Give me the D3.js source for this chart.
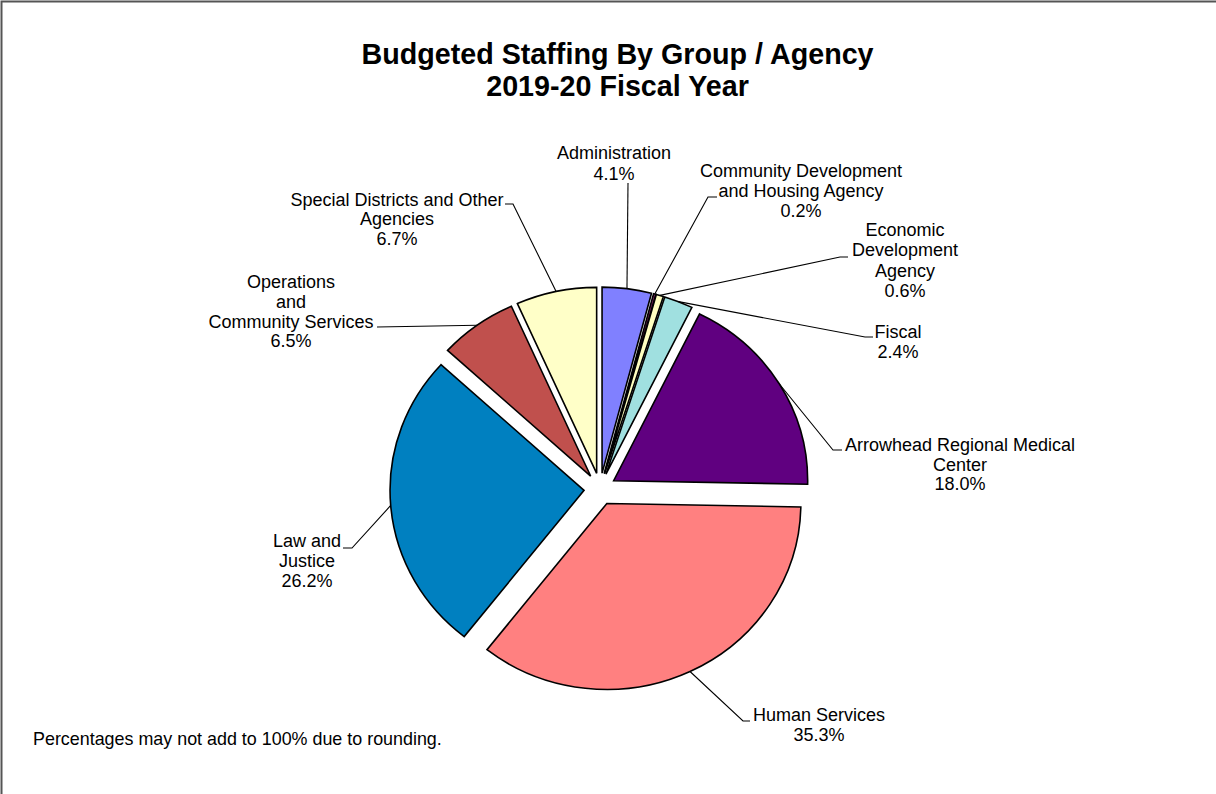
<!DOCTYPE html>
<html>
<head>
<meta charset="utf-8">
<script src="https://cdn.jsdelivr.net/npm/d3@7"></script>
<style>
  html, body { margin: 0; padding: 0; background: #fff; }
  svg { display: block; }
  text { font-family: "Liberation Sans", Arial, sans-serif; fill: #000; }
</style>
</head>
<body>
<svg id="chart" width="1216" height="794"></svg>
<script>
// Budgeted staffing share by group / agency, FY 2019-20
const groups = [
  "Administration",
  "Community Development and Housing Agency",
  "Economic Development Agency",
  "Fiscal",
  "Arrowhead Regional Medical Center",
  "Human Services",
  "Law and Justice",
  "Operations and Community Services",
  "Special Districts and Other Agencies"
];
const shares = [4.1, 0.2, 0.6, 2.4, 18.0, 35.3, 26.2, 6.5, 6.7];
const labelLines = [
  ["Administration"],
  ["Community Development", "and Housing Agency"],
  ["Economic", "Development", "Agency"],
  ["Fiscal"],
  ["Arrowhead Regional Medical", "Center"],
  ["Human Services"],
  ["Law and", "Justice"],
  ["Operations", "and", "Community Services"],
  ["Special Districts and Other", "Agencies"]
];
const sliceColors = ["#8080FF", "#802060", "#FFFFC0", "#A0E0E0", "#600080",
                     "#FF8080", "#0080C0", "#C0504D", "#FFFFC8"];
const titleLines = ["Budgeted Staffing By Group / Agency", "2019-20 Fiscal Year"];
const footnote = "Percentages may not add to 100% due to rounding.";

// Label layout: text centre x, first baseline y, leader elbow point, and
// the short horizontal tail from the elbow toward the text.
const labelLayout = [
  { x: 614, y: 159, lh: 20.5, elbow: [628, 183], tail: 0 },
  { x: 801, y: 177, lh: 20,   elbow: [708, 197], tail: 9 },
  { x: 905, y: 236, lh: 20.3, elbow: [840, 257], tail: 8 },
  { x: 898, y: 338, lh: 19.5, elbow: [865, 337], tail: 8 },
  { x: 960, y: 451, lh: 19.5, elbow: [833, 450], tail: 9 },
  { x: 819, y: 721, lh: 19.7, elbow: [743, 721], tail: 7 },
  { x: 307, y: 547, lh: 20,   elbow: [352, 548], tail: -9 },
  { x: 291, y: 288, lh: 19.8, elbow: [377, 327], tail: 0 },
  { x: 397, y: 206, lh: 19.3, elbow: [513, 204], tail: -8 }
];

const svg = d3.select("#chart");
const W = 1216, H = 794;

// Chart frame (top and left edges visible)
svg.append("path")
  .attr("d", `M1.5,${H} L1.5,1.5 L${W},1.5`)
  .attr("fill", "none")
  .attr("stroke", "#555")
  .attr("stroke-width", 2);

// Title
svg.append("text")
  .attr("x", 617.5).attr("y", 64)
  .attr("text-anchor", "middle")
  .style("font-size", "28.7px").style("font-weight", "bold")
  .text(titleLines[0]);
svg.append("text")
  .attr("x", 617.5).attr("y", 96)
  .attr("text-anchor", "middle")
  .style("font-size", "28.7px").style("font-weight", "bold")
  .text(titleLines[1]);

// Pie geometry
const cx = 600, cy = 489;
const rx = 194, ry = 186;
const explode = 16;

const pie = d3.pie().sort(null).value(d => d)
  .startAngle(0).endAngle(2 * Math.PI);
const arcs = pie(shares);
const arc = d3.arc().innerRadius(0).outerRadius(ry);

const mid = a => (a.startAngle + a.endAngle) / 2;
const offset = a => [explode * Math.sin(mid(a)), -explode * Math.cos(mid(a))];

const pieG = svg.append("g").attr("transform", `translate(${cx},${cy})`);

pieG.selectAll("path.slice")
  .data(arcs)
  .join("path")
  .attr("class", "slice")
  .attr("transform", d => {
    const [ox, oy] = offset(d);
    return `translate(${ox},${oy}) scale(${rx / ry},1)`;
  })
  .attr("d", arc)
  .attr("fill", (d, i) => sliceColors[i])
  .attr("stroke", "#000")
  .attr("stroke-width", 1.6)
  .attr("stroke-linejoin", "miter")
  .attr("vector-effect", "non-scaling-stroke");

// Outer arc midpoint of each exploded slice, in page coordinates
const arcMid = a => {
  const [ox, oy] = offset(a);
  const m = mid(a);
  return [cx + ox + rx * Math.sin(m), cy + oy - ry * Math.cos(m)];
};

// Leader lines
const leaders = svg.append("g");
arcs.forEach((a, i) => {
  const L = labelLayout[i];
  const p0 = arcMid(a);
  const pts = [p0, L.elbow];
  if (L.tail !== 0) pts.push([L.elbow[0] + L.tail, L.elbow[1]]);
  leaders.append("path")
    .attr("d", d3.line()(pts))
    .attr("fill", "none")
    .attr("stroke", "#000")
    .attr("stroke-width", 1.1);
});

// Data labels: name lines followed by the share
const fmt = d3.format(".1f");
const labels = svg.append("g");
arcs.forEach((a, i) => {
  const L = labelLayout[i];
  const lines = labelLines[i].concat([fmt(shares[i]) + "%"]);
  const t = labels.append("text")
    .attr("text-anchor", "middle")
    .style("font-size", "18px");
  lines.forEach((s, k) => {
    t.append("tspan")
      .attr("x", L.x)
      .attr("y", L.y + k * L.lh)
      .text(s);
  });
});

// Footnote
svg.append("text")
  .attr("x", 33).attr("y", 745)
  .style("font-size", "17.9px")
  .text(footnote);
</script>
</body>
</html>
